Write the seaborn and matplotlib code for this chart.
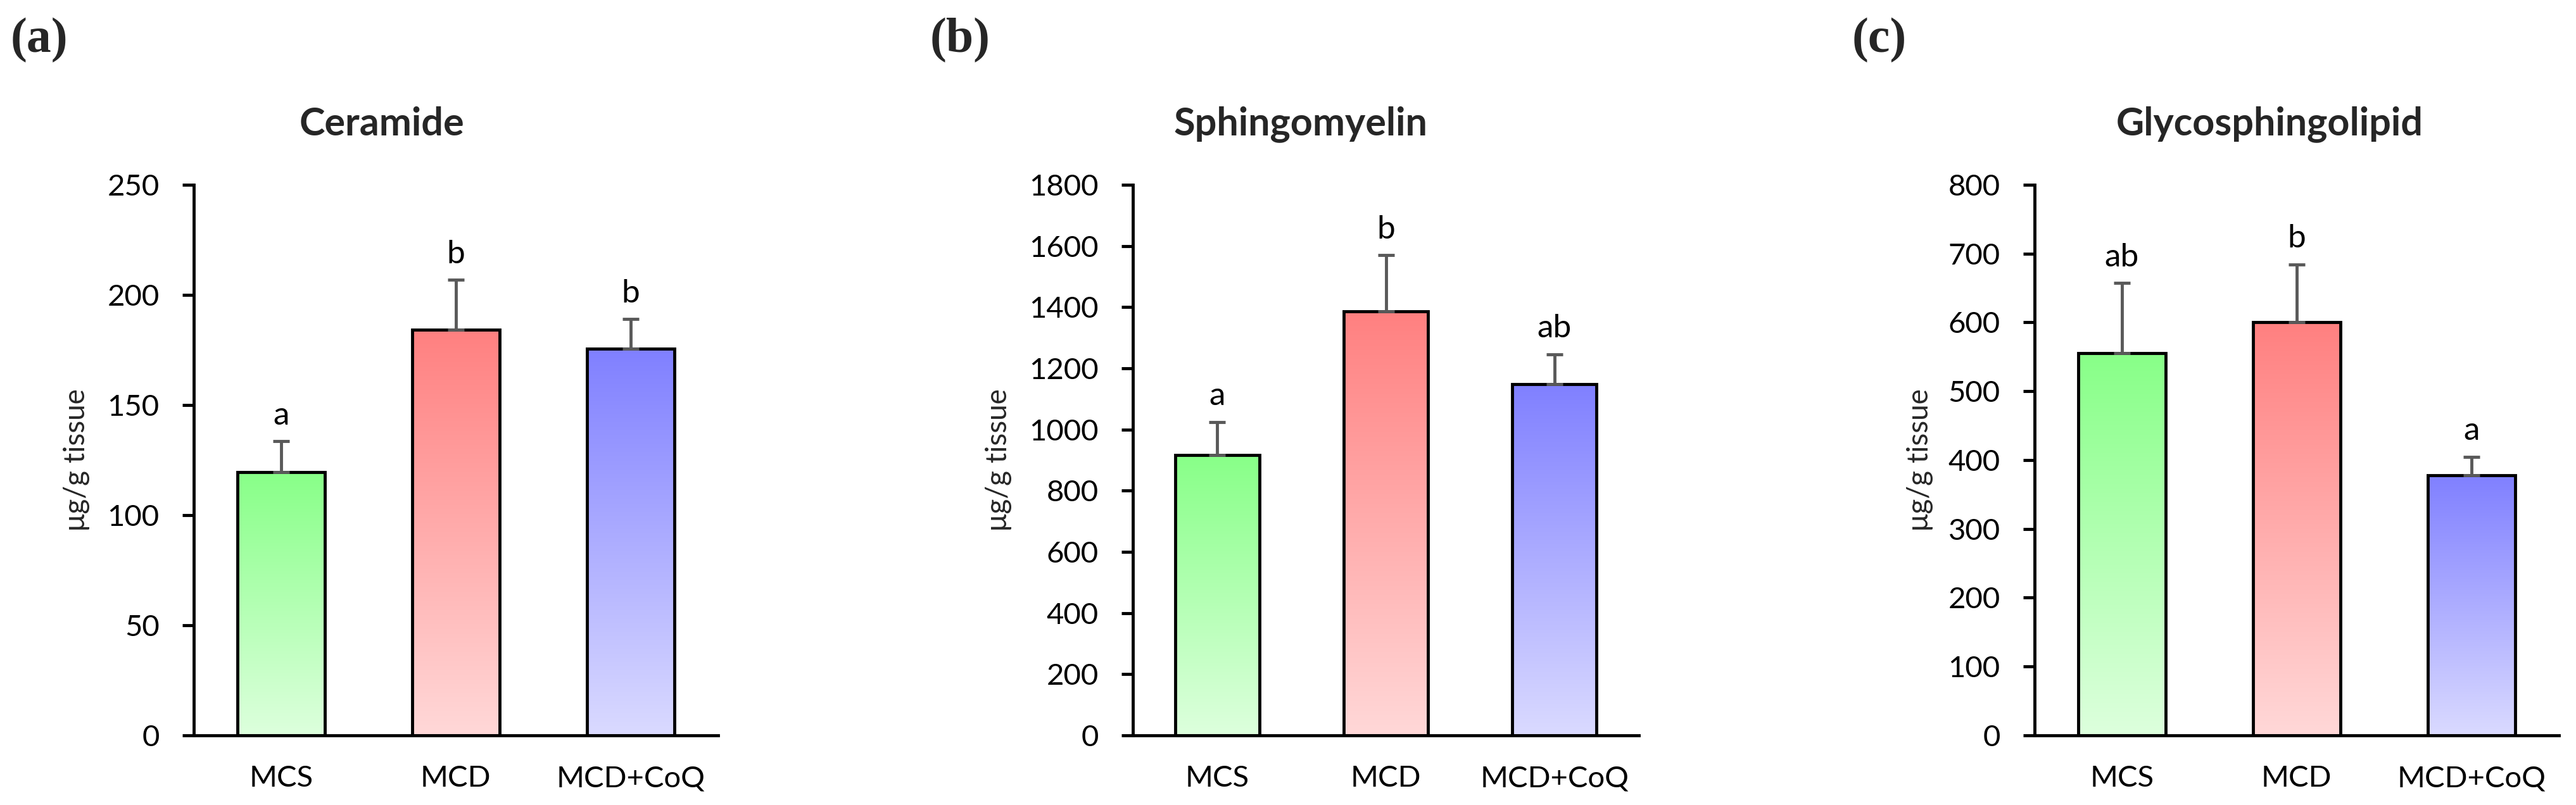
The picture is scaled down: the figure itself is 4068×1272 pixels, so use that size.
import numpy as np
import matplotlib
matplotlib.use("Agg")
import matplotlib.pyplot as plt
from matplotlib.colors import LinearSegmentedColormap
import seaborn as sns

# group names and values
groups = ["MCS", "MCD", "MCD+CoQ"]

ceramide_mean = [119.6, 184.2, 175.5]
ceramide_sd = [14.0, 22.7, 13.5]
ceramide_sig = ["a", "b", "b"]

sphingo_mean = [917, 1387, 1149]
sphingo_sd = [108, 183, 97]
sphingo_sig = ["a", "b", "ab"]

glyco_mean = [555, 600, 378]
glyco_sd = [102.5, 84.5, 27]
glyco_sig = ["ab", "b", "a"]

titles = ["Ceramide", "Sphingomyelin", "Glycosphingolipid"]
panel_tags = ["(a)", "(b)", "(c)"]
y_max = [250, 1800, 800]
y_step = [50, 200, 100]

# top colour -> bottom colour of each bar
top_cols = ["#88FF88", "#FF8080", "#8080FF"]
bottom_cols = ["#DDFFDD", "#FFD8D8", "#DADAFF"]

sns.set_style("ticks")
plt.rcParams["font.family"] = ["Lato", "DejaVu Sans"]

fig = plt.figure(figsize=(40.68, 12.72), dpi=100)

# axes boxes in figure fractions
boxes = [
    [0.0752, 0.0865, 0.2035, 0.6840],
    [0.4398, 0.0865, 0.1964, 0.6840],
    [0.7898, 0.0865, 0.2035, 0.6840],
]
ylabel_x = [-0.223, -0.265, -0.218]
title_x = [0.1482, 0.5050, 0.8810]
tag_x = [0.0042, 0.3610, 0.7190]

means = [ceramide_mean, sphingo_mean, glyco_mean]
sds = [ceramide_sd, sphingo_sd, glyco_sd]
sigs = [ceramide_sig, sphingo_sig, glyco_sig]

lw = 3.5

for i in range(3):
    ax = fig.add_axes(boxes[i])
    sns.barplot(x=groups, y=means[i], hue=groups, palette=top_cols,
                width=0.5, edgecolor="black", linewidth=lw, legend=False,
                errorbar=None, ax=ax)

    # vertical gradient inside each bar
    for j, patch in enumerate(ax.patches[:3]):
        x0, w, h = patch.get_x(), patch.get_width(), patch.get_height()
        cmap = LinearSegmentedColormap.from_list("g", [bottom_cols[j], top_cols[j]])
        grad = np.linspace(0, 1, 256).reshape(-1, 1)
        im = ax.imshow(grad, extent=[x0, x0 + w, 0, h], origin="lower",
                       aspect="auto", cmap=cmap, zorder=patch.get_zorder() - 0.1)
        im.set_clip_path(patch)
        patch.set_facecolor("none")

    x = np.arange(3)
    ax.errorbar(x, means[i], yerr=[np.zeros(3), sds[i]], fmt="none",
                ecolor="#595959", elinewidth=lw, capsize=9.5, capthick=lw,
                zorder=1)

    for j in range(3):
        ax.annotate(sigs[i][j], (x[j], means[i][j] + sds[i][j]),
                    xytext=(0, 19), textcoords="offset points",
                    ha="center", va="baseline", fontsize=37, color="black")

    ax.set_xlim(-0.5, 2.5)
    ax.set_ylim(0, y_max[i])
    ax.set_yticks(np.arange(0, y_max[i] + 1, y_step[i]))
    ax.set_xlabel("")
    sns.despine(ax=ax)
    for s in ["left", "bottom"]:
        ax.spines[s].set_linewidth(lw)
        ax.spines[s].set_color("black")
    ax.tick_params(axis="y", length=13, width=lw, pad=26, labelsize=34,
                   colors="black", direction="out")
    ax.tick_params(axis="x", length=0, pad=34, labelsize=34, colors="black")

    ax.set_ylabel("\u03bcg/g tissue", fontsize=33)
    ax.yaxis.label.set_va("center")
    ax.yaxis.set_label_coords(ylabel_x[i], 0.5)

    fig.text(title_x[i], 0.832, titles[i], ha="center", va="baseline",
             fontsize=44, fontweight="bold")
    fig.text(tag_x[i], 0.978, panel_tags[i], ha="left", va="top",
             fontsize=56, fontweight="bold", family="Liberation Serif")

fig.savefig("out.png", dpi=100, facecolor="white")
